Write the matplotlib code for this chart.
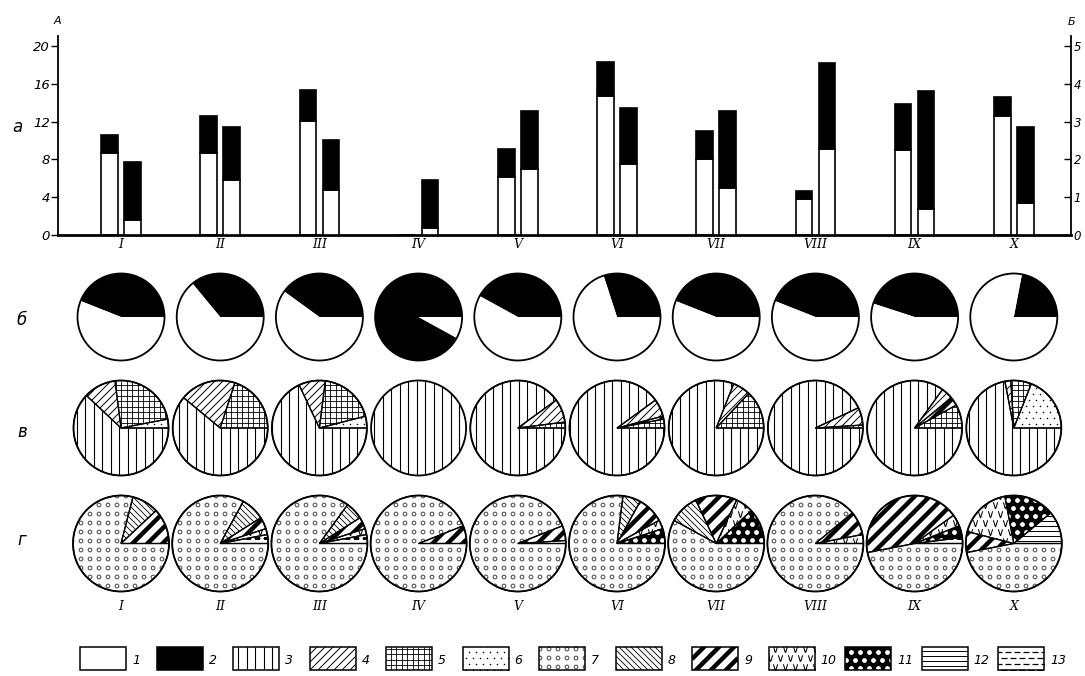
import numpy as np
import matplotlib
matplotlib.use('Agg')
import matplotlib.pyplot as plt
from matplotlib.patches import Wedge, Rectangle, Circle
from matplotlib.collections import LineCollection

# ---------------- data ----------------
groups = ['I', 'II', 'III', 'IV', 'V', 'VI', 'VII', 'VIII', 'IX', 'X']

# row "а": left bars (axis А) and right bars (axis Б), white part + black part
a_white = [8.7, 8.7, 12.1, 0.0, 6.1, 14.7, 8.0, 3.8, 9.0, 12.6]
a_black = [1.9, 3.9, 3.2, 0.0, 3.0, 3.6, 3.0, 0.9, 4.9, 2.0]
b_white = [0.40, 1.45, 1.18, 0.18, 1.75, 1.88, 1.25, 2.28, 0.69, 0.85]
b_black = [1.53, 1.40, 1.32, 1.27, 1.53, 1.47, 2.03, 2.27, 3.11, 2.00]

# row "б": shares (%) of categories 2 (black) and 1 (white)
b_cat2 = [44, 36, 40, 92, 42, 30, 44, 44, 45, 22]
b_cat1 = [56, 64, 60, 8, 58, 70, 56, 56, 55, 78]

# row "в": shares (%) of categories 6, 5, 9, 4, 3
v_cat6 = [3, 0, 4, 0, 0, 0, 0, 0, 0, 19]
v_cat5 = [24, 20, 19, 0, 2, 3, 13, 1, 8, 7]
v_cat9 = [0, 0, 0, 0, 0, 1, 0, 0, 3, 0]
v_cat4 = [11, 19, 9, 0, 8, 6, 6, 6, 4, 2]
v_cat3 = [62, 61, 68, 100, 90, 90, 81, 93, 85, 72]

# row "г": shares (%) of categories 13, 12, 11, 10, 9, 8, 7
g_cat13 = [0, 3, 3, 0, 1, 0, 0, 0, 2, 0]
g_cat12 = [0, 0, 0, 0, 0, 0, 0, 0, 0, 11]
g_cat11 = [0, 0, 0, 0, 0, 5, 12, 0, 4, 17]
g_cat10 = [0, 2, 2, 0, 0, 3, 6, 3, 4, 18]
g_cat9 = [12, 4, 4, 6, 5, 9, 14, 8, 43, 7]
g_cat8 = [9, 8, 6, 0, 0, 6, 10, 0, 0, 0]
g_cat7 = [79, 83, 85, 94, 94, 77, 58, 89, 47, 47]

legend_labels = ['1', '2', '3', '4', '5', '6', '7', '8', '9', '10', '11', '12', '13']

# ---------------- figure ----------------
W, H = 1085, 676
fig = plt.figure(figsize=(W / 100, H / 100), dpi=100)
ov = fig.add_axes([0, 0, 1, 1])
ov.set_xlim(0, W)
ov.set_ylim(0, H)
ov.axis('off')

ITAL = dict(fontstyle='italic', family='DejaVu Sans')


def diag_segments(x0, y0, x1, y1, step, sign):
    segs = []
    if sign > 0:      # '/'  : y = x + c
        cmin, cmax = y0 - x1, y1 - x0
        for c in np.arange(np.floor(cmin / step) * step, cmax + step, step):
            segs.append([(x0, x0 + c), (x1, x1 + c)])
    else:             # '\\' : y = -x + c
        cmin, cmax = y0 + x0, y1 + x1
        for c in np.arange(np.floor(cmin / step) * step, cmax + step, step):
            segs.append([(x0, -x0 + c), (x1, -x1 + c)])
    return segs


def grid_points(x0, y0, x1, y1, sx, sy, stagger=True):
    pts = []
    ys = np.arange(np.floor(y0 / sy) * sy, y1 + sy, sy)
    for yy in ys:
        off = sx / 2 if (stagger and int(round(yy / sy)) % 2) else 0
        for xx in np.arange(np.floor(x0 / sx) * sx + off, x1 + sx, sx):
            pts.append((xx, yy))
    return np.array(pts)


FACE = {c: 'white' for c in range(1, 14)}
FACE[2] = 'black'
FACE[11] = 'black'


def add_pattern(ax, patch, cat, bbox):
    x0, y0, x1, y1 = bbox
    arts = []
    if cat == 3:
        xs = np.arange(np.floor(x0 / 8.5) * 8.5, x1 + 8.5, 8.5)
        arts.append(LineCollection([[(x, y0), (x, y1)] for x in xs], colors='black', linewidths=0.8))
    elif cat == 12:
        ys = np.arange(np.floor(y0 / 5) * 5, y1 + 5, 5)
        arts.append(LineCollection([[(x0, y), (x1, y)] for y in ys], colors='black', linewidths=0.7))
    elif cat == 5:
        s = 5.5
        xs = np.arange(np.floor(x0 / s) * s, x1 + s, s)
        ys = np.arange(np.floor(y0 / s) * s, y1 + s, s)
        segs = [[(x, y0), (x, y1)] for x in xs] + [[(x0, y), (x1, y)] for y in ys]
        arts.append(LineCollection(segs, colors='black', linewidths=0.6))
    elif cat == 4:
        arts.append(LineCollection(diag_segments(x0, y0, x1, y1, 8.0, 1), colors='black', linewidths=0.7))
    elif cat == 8:
        arts.append(LineCollection(diag_segments(x0, y0, x1, y1, 6.0, -1), colors='black', linewidths=0.6))
    elif cat == 9:
        arts.append(LineCollection(diag_segments(x0, y0, x1, y1, 15.0, 1), colors='black', linewidths=3.2))
    elif cat == 6:
        p = grid_points(x0, y0, x1, y1, 7, 6)
        arts.append(ax.scatter(p[:, 0], p[:, 1], s=1.2, c='black', linewidths=0))
    elif cat == 7:
        p = grid_points(x0, y0, x1, y1, 9, 9, stagger=False)
        arts.append(ax.scatter(p[:, 0], p[:, 1], s=7, facecolors='none', edgecolors='#555555', linewidths=0.8))
    elif cat == 10:
        p = grid_points(x0, y0, x1, y1, 10, 9)
        arts.append(ax.scatter(p[:, 0], p[:, 1], s=22, marker=r'$\vee$', c='black', linewidths=0))
    elif cat == 11:
        p = grid_points(x0, y0, x1, y1, 9, 8)
        arts.append(ax.scatter(p[:, 0], p[:, 1], s=12, c='white', linewidths=0))
    elif cat == 13:
        p = grid_points(x0, y0, x1, y1, 9, 6)
        arts.append(ax.scatter(p[:, 0], p[:, 1], s=14, marker='_', c='black', linewidths=0.9))
    for a in arts:
        if isinstance(a, LineCollection):
            ax.add_collection(a)
        a.set_clip_path(patch)
        a.set_zorder(patch.get_zorder() + 0.1)


def draw_pie(ax, cx, cy, r, values, cats):
    vals = [v for v in values if v > 0]
    cs = [c for v, c in zip(values, cats) if v > 0]
    yc = H - cy
    wedges, _ = ax.pie(vals, center=(cx, yc), radius=r, startangle=0, counterclock=True,
                       frame=True, colors=[FACE[c] for c in cs],
                       wedgeprops=dict(linewidth=0))
    for w, c in zip(wedges, cs):
        add_pattern(ax, w, c, (cx - r, yc - r, cx + r, yc + r))
        if len(vals) > 1 and c not in (1, 2):
            ax.add_patch(Wedge(w.center, w.r, w.theta1, w.theta2, fill=False,
                               edgecolor='black', linewidth=0.9, zorder=5))
    ax.add_patch(Circle((cx, yc), r, fill=False, edgecolor='black', linewidth=1.3, zorder=6))


centers = [121 + 99.2 * i for i in range(10)]

# row б
for i, cx in enumerate(centers):
    draw_pie(ov, cx, 317, 43.5, [b_cat2[i], b_cat1[i]], [2, 1])
# row в
for i, cx in enumerate(centers):
    draw_pie(ov, cx, 428, 47.5, [v_cat6[i], v_cat5[i], v_cat9[i], v_cat4[i], v_cat3[i]], [6, 5, 9, 4, 3])
# row г
for i, cx in enumerate(centers):
    draw_pie(ov, cx, 543.5, 48,
             [g_cat13[i], g_cat12[i], g_cat11[i], g_cat10[i], g_cat9[i], g_cat8[i], g_cat7[i]],
             [13, 12, 11, 10, 9, 8, 7])
    ov.text(cx, H - 606, groups[i], ha='center', va='center', fontsize=9,
            fontstyle='italic', family='DejaVu Serif')

# row labels
ov.text(17, H - 127, 'а', ha='center', va='center', fontsize=12, **ITAL)
ov.text(22, H - 320, 'б', ha='center', va='center', fontsize=12, **ITAL)
ov.text(22, H - 432, 'в', ha='center', va='center', fontsize=12, **ITAL)
ov.text(22, H - 540, 'г', ha='center', va='center', fontsize=12, **ITAL)
ov.text(57, H - 21, 'А', ha='center', va='center', fontsize=8, **ITAL)
ov.text(1071, H - 22, 'Б', ha='center', va='center', fontsize=8, **ITAL)

# legend
for k, lab in enumerate(legend_labels):
    cat = k + 1
    lx = 80 + 76.5 * k
    rect = Rectangle((lx, H - 670), 46, 23, facecolor=FACE[cat], edgecolor='none', zorder=2)
    ov.add_patch(rect)
    add_pattern(ov, rect, cat, (lx, H - 670, lx + 46, H - 647))
    ov.add_patch(Rectangle((lx, H - 670), 46, 23, fill=False, edgecolor='black', linewidth=1.1, zorder=6))
    ov.text(lx + 52, H - 660, lab, ha='left', va='center', fontsize=9, **ITAL)

ov.set_xlim(0, W)
ov.set_ylim(0, H)

# ---------------- bar chart (row а) ----------------
L, R, T, B = 58, 1071, 36, 235
axb = fig.add_axes([L / W, 1 - B / H, (R - L) / W, (B - T) / H])
axr = axb.twinx()
x = np.arange(len(groups))
off, bw = 0.116, 0.166
axb.bar(x - off, a_white, bw, color='white', edgecolor='black', linewidth=1.2)
axb.bar(x - off, a_black, bw, bottom=a_white, color='black', edgecolor='black', linewidth=1.2)
axr.bar(x + off, b_white, bw, color='white', edgecolor='black', linewidth=1.2)
axr.bar(x + off, b_black, bw, bottom=b_white, color='black', edgecolor='black', linewidth=1.2)

ytop = (B - T) / 9.45
axb.set_ylim(0, ytop)
axr.set_ylim(0, ytop / 4)
axb.set_xlim((L - 121) / 99.2, (R - 121) / 99.2)

axb.set_yticks([0, 4, 8, 12, 16, 20])
axr.set_yticks([0, 1, 2, 3, 4, 5])
axb.set_xticks(x, groups)
axb.tick_params(axis='y', direction='out', length=5, width=1, labelsize=9.5, pad=1)
axr.tick_params(axis='y', direction='in', length=5, width=1, labelsize=8.5, pad=2)
axb.tick_params(axis='x', length=0, labelsize=9, pad=2)
for lab in axb.get_yticklabels() + axr.get_yticklabels():
    lab.set_fontstyle('italic')
for lab in axb.get_xticklabels():
    lab.set_fontstyle('italic')
    lab.set_family('DejaVu Serif')

for a in (axb, axr):
    a.patch.set_visible(False)
    a.spines['top'].set_visible(False)
axb.spines['right'].set_visible(False)
axr.spines['left'].set_visible(False)
axr.spines['bottom'].set_visible(False)
axb.spines['left'].set_linewidth(1.3)
axr.spines['right'].set_linewidth(1.3)
axb.spines['bottom'].set_linewidth(2.0)

fig.savefig('out.png', dpi=100)
